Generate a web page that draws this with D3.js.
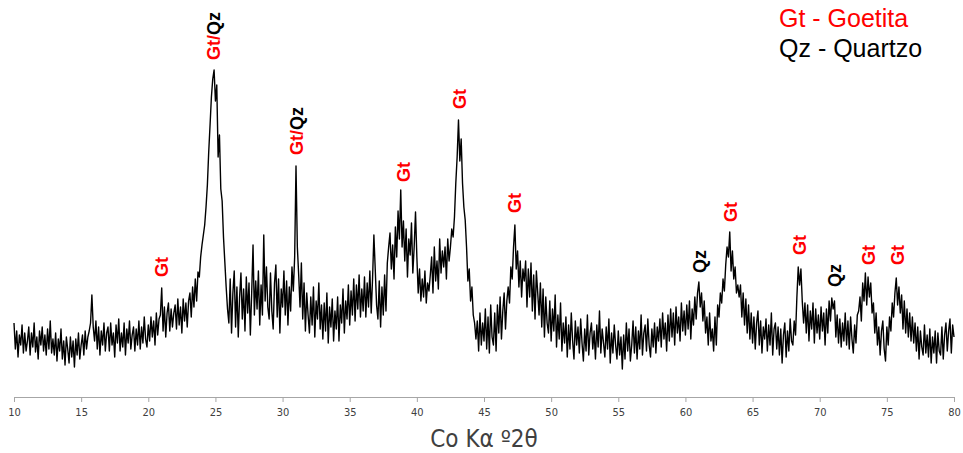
<!DOCTYPE html>
<html>
<head>
<meta charset="utf-8">
<script src="https://cdn.jsdelivr.net/npm/d3@7"></script>
<style>
  body { margin: 0; background: #fff; }
  svg { display: block; }
  .tick-label { font-family: "Liberation Sans Narrow", "DejaVu Sans Condensed", sans-serif; font-size: 11px; fill: #404040; }
  .axis-title { font-family: "Liberation Sans Narrow", "DejaVu Sans Condensed", sans-serif; font-size: 24px; fill: #404040; }
  .peak-label { font-family: "Liberation Sans", Arial, sans-serif; font-weight: bold; font-size: 18px; }
  .legend { font-family: "Liberation Sans", Arial, sans-serif; font-size: 25px; }
</style>
</head>
<body>
<svg id="chart" width="963" height="453"></svg>
<script>
// scan grid (Co Kα, °2θ)
const scanStart = 10;
const scanStep = 0.1;

// intensity, one row per degree
const intensity = [
  74,48,66,40,62,52,72,44,64,46,   // 10
  56,70,42,64,50,74,45,60,38,66,   // 11
  52,70,46,62,42,68,48,76,44,58,   // 12
  42,64,36,58,46,68,38,56,32,60,   // 13
  48,34,60,40,56,30,58,42,64,38,   // 14
  52,62,42,66,48,60,66,74,102,70,  // 15
  56,76,48,70,42,66,52,74,46,64,   // 16
  70,46,74,52,64,40,72,54,78,46,   // 17
  64,50,74,42,68,54,76,48,62,70,   // 18
  46,68,52,76,48,70,54,80,58,50,   // 19
  72,56,80,60,76,52,84,62,78,82,   // 20
  109,66,90,60,84,94,66,88,70,84,  // 21
  92,68,98,72,90,64,98,76,94,70,   // 22
  96,104,80,110,90,118,96,125,120,140, // 23
  152,162,172,190,212,245,272,300,318,327, // 24
  296,312,240,262,208,196,160,135,110,88,  // 25
  74,118,64,104,126,70,110,60,100,124, // 26
  78,108,66,120,84,114,62,104,152,82,  // 27
  116,88,126,72,112,82,162,96,130,90,  // 28
  78,124,86,68,114,132,80,118,64,108,  // 29
  90,126,82,116,72,110,86,130,106,140, // 30
  231,150,122,90,134,78,114,66,104,82, // 31
  64,100,72,110,60,96,78,114,68,92,    // 32
  58,94,66,104,54,90,70,98,56,86,      // 33
  68,100,56,92,74,108,64,96,78,112,    // 34
  72,106,82,118,76,112,88,122,80,108,  // 35
  86,120,80,114,90,126,84,118,162,128, // 36
  92,78,116,70,110,82,122,86,134,150,  // 37
  164,128,152,118,170,140,186,158,207,150, // 38
  176,136,168,120,158,142,174,124,150,185, // 39
  140,104,128,96,118,100,126,94,114,106,   // 40
  122,140,104,150,116,136,108,158,124,146, // 41
  130,150,118,158,136,150,168,160,180,214, // 42
  240,277,236,258,214,190,177,150,116,128, // 43
  96,110,82,74,58,76,46,84,52,74,      // 44
  56,88,48,80,44,92,60,52,84,46,       // 45
  92,64,100,58,86,104,68,96,110,94,    // 46
  130,118,150,172,128,146,110,136,100,128, // 47
  116,136,90,128,100,134,86,122,78,126,    // 48
  104,82,114,70,108,60,100,74,64,96,   // 49
  56,88,66,102,50,82,58,94,46,74,      // 50
  54,80,40,72,48,84,56,38,76,52,       // 51
  70,44,78,54,36,68,46,82,42,64,       // 52
  74,48,66,38,72,50,86,44,68,54,       // 53
  40,70,48,78,34,64,44,72,52,38,       // 54
  66,42,60,28,62,38,74,46,68,36,       // 55
  52,76,44,70,38,66,48,82,42,64,       // 56
  72,46,78,52,40,68,50,74,44,70,       // 57
  56,78,50,84,58,74,46,82,56,88,       // 58
  60,84,52,90,64,80,56,94,66,86,       // 59
  62,92,68,96,58,88,72,100,78,104,     // 60
  115,90,104,76,96,64,80,52,84,56,     // 61
  68,46,80,52,92,80,104,94,118,106,    // 62
  132,150,140,165,126,146,118,130,104,112, // 63
  100,112,80,104,72,98,64,92,58,84,    // 64
  54,80,48,74,86,52,76,44,70,58,       // 65
  78,46,72,52,84,42,68,74,48,70,       // 66
  42,68,34,62,74,40,66,46,78,56,       // 67
  52,76,62,100,130,112,128,96,74,94,   // 68
  64,92,56,86,68,94,54,88,64,82,       // 69
  58,90,66,84,52,88,64,96,76,99,       // 70
  88,96,60,82,54,78,50,74,56,84,       // 71
  52,76,48,80,58,44,72,54,82,86,       // 72
  100,76,114,96,124,92,120,100,114,84, // 73
  94,64,84,52,70,42,66,76,48,36,       // 74
  70,52,80,66,94,80,104,119,92,110,    // 75
  84,102,68,96,64,88,60,84,56,80,      // 76
  54,74,46,70,38,66,50,42,72,44,       // 77
  62,40,68,34,60,44,66,34,64,46,       // 78
  42,70,38,62,74,46,66,78,44,72,       // 79
  60                                   // 80
];

// x axis ticks
const xTicks = [10, 15, 20, 25, 30, 35, 40, 45, 50, 55, 60, 65, 70, 75, 80];

// peak annotations: angle, label, intensity just below the label
const peakAngles = [20.95, 24.89, 31.03, 39.04, 43.21, 47.30, 61.08, 63.39, 68.53, 71.13, 73.66, 75.82];
const peakPhases = ["Gt", "Gt/Qz", "Gt/Qz", "Gt", "Gt", "Gt", "Qz", "Gt", "Gt", "Qz", "Gt", "Gt"];
const peakLabelBase = [120, 337, 242, 215, 288, 184, 124, 175, 142, 110, 132, 132];

const legendItems = ["Gt - Goetita", "Qz - Quartzo"];
const phaseColor = { Gt: "#ff0000", Qz: "#000000" };

const svg = d3.select("#chart");

const x = d3.scaleLinear().domain([10, 80]).range([14, 954]);
const y = d3.scaleLinear().domain([0, 360]).range([397, 37]);

const points = intensity.map((v, i) => [scanStart + i * scanStep, v]);

// pattern
svg.append("path")
  .datum(points)
  .attr("fill", "none")
  .attr("stroke", "#000")
  .attr("stroke-width", 1.4)
  .attr("stroke-linejoin", "round")
  .attr("d", d3.line().x(d => x(d[0])).y(d => y(d[1])));

// x axis
const ax = svg.append("g")
  .attr("transform", `translate(0,${y(0)})`)
  .call(d3.axisBottom(x).tickValues(xTicks).tickSize(5).tickPadding(6).tickFormat(d3.format("d")));
ax.select(".domain").attr("stroke", "#a6a6a6");
ax.selectAll(".tick line").attr("stroke", "#a6a6a6");
ax.selectAll(".tick text").attr("class", "tick-label").attr("font-family", null).attr("font-size", null).attr("fill", null);

svg.append("text")
  .attr("class", "axis-title")
  .attr("x", x(45))
  .attr("y", 447)
  .attr("text-anchor", "middle")
  .text("Co Kα º2θ");

// peak labels
peakAngles.forEach((a, i) => {
  const t = svg.append("text")
    .attr("class", "peak-label")
    .attr("transform", `translate(${x(a)},${y(peakLabelBase[i])}) rotate(-90)`)
    .attr("dy", "0.36em");
  peakPhases[i].split(/(\/)/).forEach((part, j, arr) => {
    const col = part === "/" ? phaseColor[arr[j - 1]] : phaseColor[part];
    t.append("tspan").attr("fill", col).text(part);
  });
});

// legend
legendItems.forEach((s, i) => {
  svg.append("text")
    .attr("class", "legend")
    .attr("x", 779)
    .attr("y", 27 + i * 30)
    .attr("fill", phaseColor[s.slice(0, 2)])
    .text(s);
});
</script>
</body>
</html>
